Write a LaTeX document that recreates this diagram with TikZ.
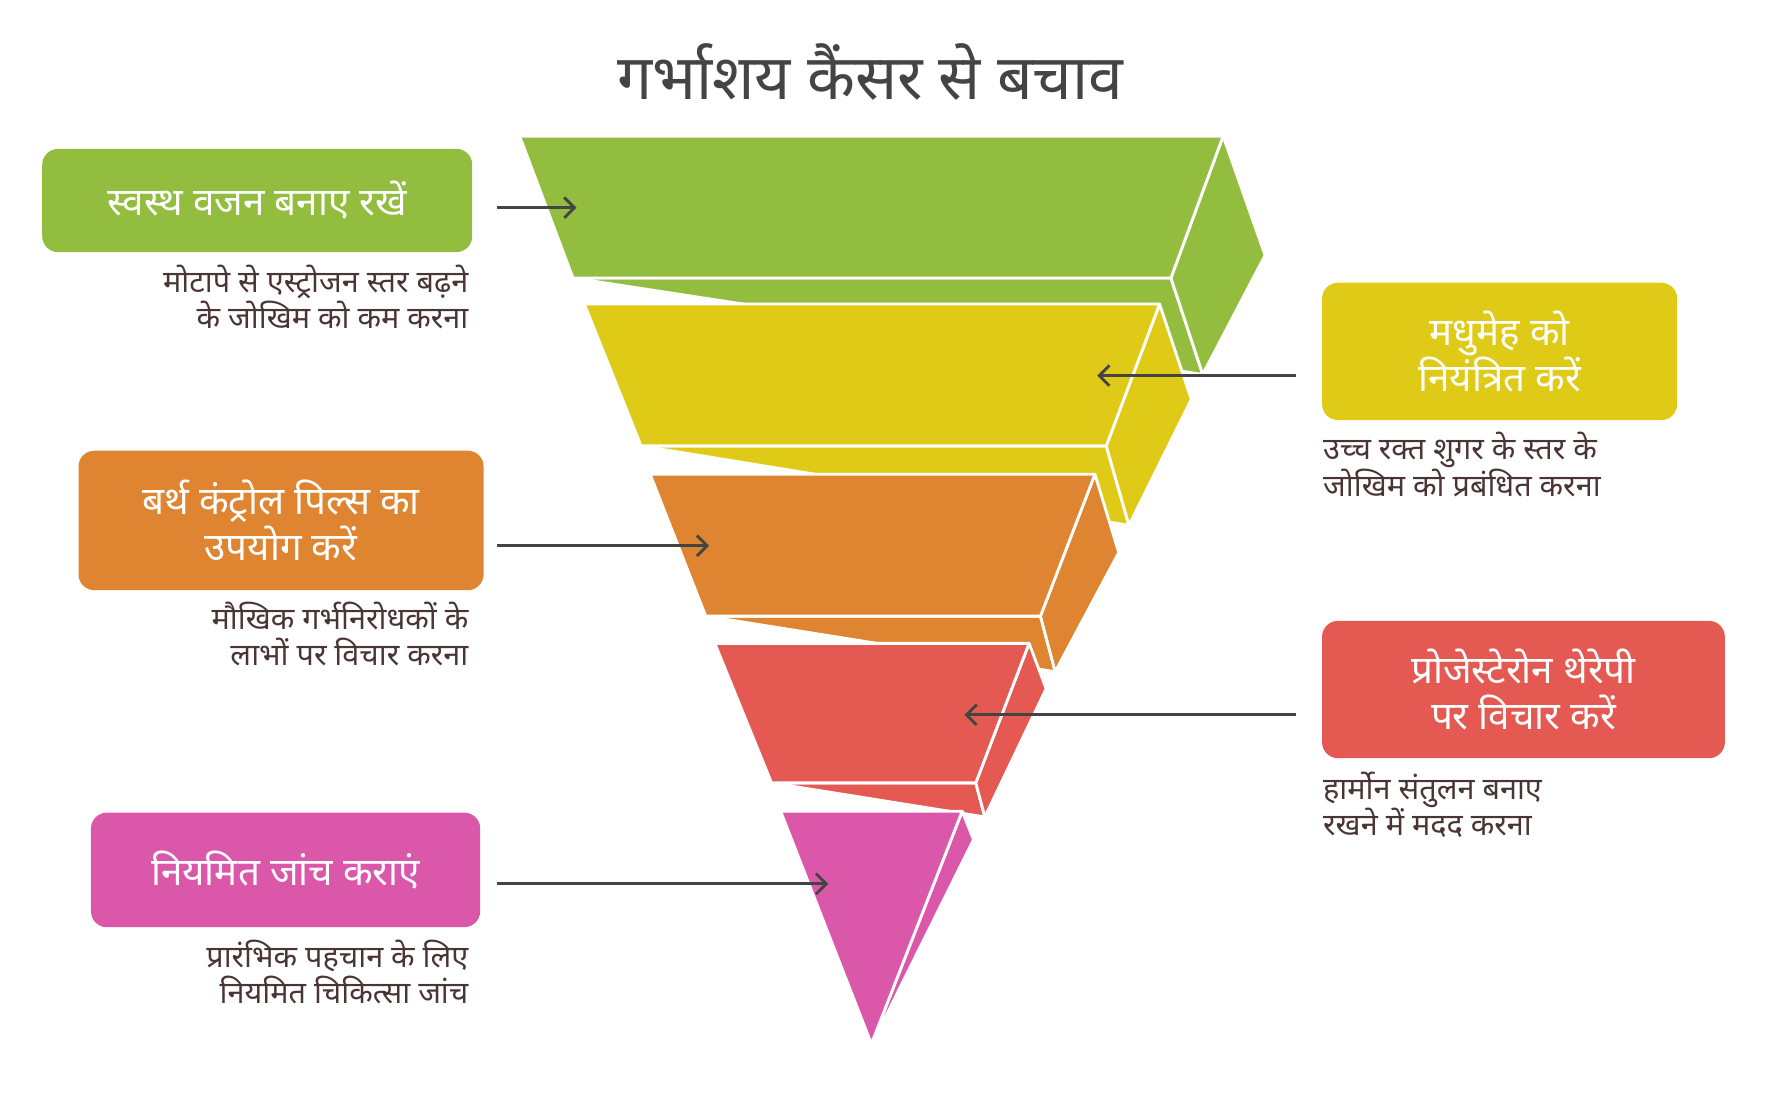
\documentclass[tikz,border=0pt]{standalone}
\usepackage{fontspec}
\newfontfamily\hi[Script=Devanagari]{Noto Sans}
\usetikzlibrary{arrows.meta}
\definecolor{cg}{HTML}{93BD3E}
\definecolor{cy}{HTML}{DFCB17}
\definecolor{co}{HTML}{DF8431}
\definecolor{cr}{HTML}{E45A52}
\definecolor{cp}{HTML}{DB57AA}
\definecolor{ct}{HTML}{444444}
\definecolor{cd}{HTML}{4A3535}
\tikzset{
 face/.style={draw=white,line width=2.5pt,line join=round},
 lbox/.style={rounded corners=14pt,anchor=north west,inner sep=0pt,text=white,font=\hi\bfseries\fontsize{34}{40}\selectfont,align=center},
 descl/.style={anchor=north east,text=cd,font=\hi\fontsize{27}{32}\selectfont,align=right,inner sep=0pt},
 descr/.style={anchor=north west,text=cd,font=\hi\fontsize{27}{32}\selectfont,align=left,inner sep=0pt},
 arr/.style={draw=ct,line width=2.5pt,-{Straight Barb[length=9pt,width=18pt,line width=2.5pt]}}
}
\begin{document}
\begin{tikzpicture}[x=1pt,y=-1pt]
\useasboundingbox (0,0) rectangle (1560,966);
\node[font=\hi\bfseries\fontsize{55}{60}\selectfont,text=ct] (title) at (767,63) {गर्भाशय कैंसर से बचाव};
% layers top first
\fill[cg,face] (505,245)--(1032,245)--(1060,330)--cycle;
\fill[cg,face] (1078,120)--(1115,225)--(1060,330)--(1032,245)--cycle;
\fill[cg,face] (458,120)--(1078,120)--(1032,245)--(505,245)--cycle;
\fill[cy,face] (565,393)--(975,393)--(995,463)--cycle;
\fill[cy,face] (1022,268)--(1050,352)--(995,463)--(975,393)--cycle;
\fill[cy,face] (515,268)--(1022,268)--(975,393)--(565,393)--cycle;
\fill[co,face] (622,543)--(917,543)--(930,592)--cycle;
\fill[co,face] (965,418)--(986,487)--(930,592)--(917,543)--cycle;
\fill[co,face] (573,418)--(965,418)--(917,543)--(622,543)--cycle;
\fill[cr,face] (680,690)--(860,690)--(868,720)--cycle;
\fill[cr,face] (907,567)--(922,607)--(868,720)--(860,690)--cycle;
\fill[cr,face] (630,567)--(907,567)--(860,690)--(680,690)--cycle;
\fill[cp,face] (848,715)--(858,740)--(782,893)--(768,920)--cycle;
\fill[cp,face] (688,715)--(848,715)--(768,920)--cycle;
\coordinate (g1) at (508,183); \coordinate (y1) at (967,331);
\coordinate (o1) at (625,481); \coordinate (r1) at (850,630);
\coordinate (p1) at (730,779);
% boxes
\node[lbox,fill=cg,minimum width=379pt,minimum height=91pt] (bg) at (37,131) {स्वस्थ वजन बनाए रखें};
\node[descl] (dg) at (413,233) {मोटापे से एस्ट्रोजन स्तर बढ़ने\\के जोखिम को कम करना};
\node[lbox,fill=co,minimum width=357pt,minimum height=123pt] (bo) at (69,397) {बर्थ कंट्रोल पिल्स का\\उपयोग करें};
\node[descl] (do) at (413,530) {मौखिक गर्भनिरोधकों के\\लाभों पर विचार करना};
\node[lbox,fill=cp,minimum width=343pt,minimum height=101pt] (bp) at (80,716) {नियमित जांच कराएं};
\node[descl] (dp) at (413,828) {प्रारंभिक पहचान के लिए\\नियमित चिकित्सा जांच};
\node[lbox,fill=cy,minimum width=313pt,minimum height=121pt] (by) at (1165,249) {मधुमेह को\\नियंत्रित करें};
\node[descr] (dy) at (1166,381) {उच्च रक्त शुगर के स्तर के\\जोखिम को प्रबंधित करना};
\node[lbox,fill=cr,minimum width=355pt,minimum height=121pt] (br) at (1165,547) {प्रोजेस्टेरोन थेरेपी\\पर विचार करें};
\node[descr] (dr) at (1166,680) {हार्मोन संतुलन बनाए\\रखने में मदद करना};
\coordinate (ga) at (438,183); \coordinate (oa) at (438,481); \coordinate (pa) at (438,779);
\coordinate (ya) at (1142,331); \coordinate (ra) at (1142,630);
\draw[arr] (ga)--(g1); \draw[arr] (oa)--(o1); \draw[arr] (pa)--(p1);
\draw[arr] (ya)--(y1); \draw[arr] (ra)--(r1);
\end{tikzpicture}
\end{document}
